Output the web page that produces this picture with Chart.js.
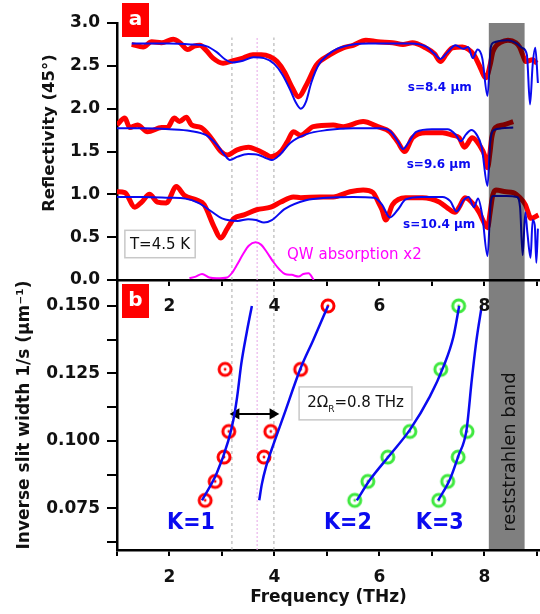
<!DOCTYPE html>
<html>
<head>
<meta charset="utf-8">
<script src="https://cdn.jsdelivr.net/npm/chart.js@4.4.0/dist/chart.umd.min.js"></script>
<style>
html, body { margin: 0; padding: 0; background: #fff; }
#wrap { position: relative; width: 540px; height: 614px; }
#wrap canvas { position: absolute; left: 0; top: 0; }
</style>
</head>
<body>
<div id="wrap">
  <canvas id="chartB" width="540" height="614"></canvas>
  <canvas id="chartA" width="540" height="614"></canvas>
</div>
<script>
// ---------- panel a : reflectivity at 45 deg (curves offset) ----------
// s = 8.4 um
const freq84Exp = [1.28,1.5,1.66,1.85,2.07,2.2,2.35,2.47,2.58,2.7,2.83,3.02,3.21,3.4,3.59,3.75,3.91,4.05,4.2,4.31,4.46,4.61,4.8,5.06,5.31,5.5,5.74,5.97,6.25,6.45,6.63,6.88,7.05,7.16,7.28,7.39,7.58,7.7,7.8,7.9,8.03,8.11,8.16,8.22,8.3,8.45,8.6,8.67,8.73,8.79,8.92,9.0];
const refl84Exp = [2.75,2.72,2.78,2.77,2.81,2.77,2.69,2.73,2.74,2.68,2.59,2.53,2.56,2.59,2.63,2.63,2.61,2.55,2.42,2.28,2.14,2.28,2.51,2.63,2.71,2.74,2.80,2.78,2.77,2.75,2.77,2.71,2.64,2.55,2.64,2.71,2.72,2.69,2.63,2.51,2.36,2.51,2.66,2.73,2.77,2.80,2.77,2.72,2.63,2.55,2.57,2.53];
const freq84Sim = [1.28,1.6,2.0,2.4,2.7,2.9,3.05,3.2,3.4,3.6,3.8,4.0,4.15,4.3,4.4,4.5,4.6,4.7,4.85,5.0,5.2,5.5,5.8,6.2,6.6,6.9,7.05,7.16,7.3,7.45,7.6,7.69,7.78,7.87,7.96,8.06,8.12,8.17,8.45,8.62,8.72,8.81,8.87,8.92,8.97,9.02];
const refl84Sim = [2.76,2.76,2.76,2.75,2.73,2.66,2.58,2.54,2.56,2.60,2.59,2.52,2.40,2.22,2.08,2.00,2.08,2.30,2.52,2.62,2.70,2.75,2.76,2.76,2.76,2.72,2.64,2.58,2.66,2.74,2.70,2.72,2.59,2.69,2.59,2.15,2.71,2.77,2.80,2.76,2.71,2.63,2.05,2.51,2.71,2.30];
// s = 9.6 um
const freq96Exp = [1.0,1.15,1.24,1.39,1.58,1.85,1.96,2.09,2.19,2.32,2.42,2.6,2.79,2.98,3.1,3.29,3.51,3.66,3.8,3.93,4.12,4.25,4.36,4.5,4.74,5.12,5.31,5.69,5.97,6.2,6.35,6.48,6.63,6.88,7.2,7.39,7.52,7.62,7.77,7.9,8.02,8.06,8.11,8.14,8.21,8.36,8.55];
const refl96Exp = [1.81,1.89,1.78,1.81,1.73,1.78,1.78,1.89,1.85,1.90,1.81,1.78,1.66,1.50,1.46,1.52,1.55,1.52,1.48,1.44,1.50,1.62,1.73,1.69,1.79,1.81,1.79,1.85,1.79,1.73,1.61,1.50,1.66,1.72,1.72,1.69,1.66,1.55,1.66,1.58,1.43,1.31,1.50,1.66,1.78,1.81,1.85];
const freq96Sim = [1.0,1.5,2.0,2.4,2.7,2.9,3.05,3.15,3.3,3.5,3.7,3.85,3.95,4.1,4.3,4.6,5.0,5.5,6.0,6.2,6.35,6.45,6.55,6.7,7.0,7.3,7.45,7.55,7.65,7.75,7.85,7.95,8.06,8.11,8.18,8.33,8.55];
const refl96Sim = [1.77,1.77,1.76,1.74,1.69,1.58,1.46,1.40,1.44,1.47,1.46,1.42,1.40,1.46,1.60,1.70,1.75,1.77,1.77,1.74,1.62,1.53,1.60,1.73,1.76,1.76,1.70,1.62,1.70,1.75,1.70,1.55,1.10,1.60,1.75,1.77,1.78];
// s = 10.4 um
const freq104Exp = [1.0,1.15,1.34,1.47,1.62,1.77,1.94,2.13,2.28,2.53,2.66,2.85,2.98,3.1,3.23,3.42,3.66,3.93,4.12,4.36,4.5,4.87,5.12,5.44,5.69,5.88,5.97,6.05,6.12,6.25,6.5,6.82,7.14,7.3,7.44,7.52,7.63,7.8,7.9,8.02,8.06,8.11,8.16,8.22,8.41,8.55,8.68,8.78,8.89,9.03];
const refl104Exp = [1.03,1.02,0.85,0.91,1.0,0.91,0.90,1.09,0.99,0.93,0.88,0.62,0.49,0.60,0.72,0.76,0.82,0.85,0.91,0.97,0.96,0.97,0.97,1.03,1.05,1.02,0.92,0.82,0.70,0.88,0.96,0.96,0.91,0.84,0.79,0.85,0.96,0.88,0.79,0.64,0.61,0.79,0.99,1.05,1.03,1.02,0.96,0.88,0.72,0.76];
const freq104Sim = [1.0,1.5,2.0,2.3,2.55,2.8,3.0,3.3,3.5,3.65,3.8,3.95,4.2,4.6,5.0,5.5,5.9,6.05,6.2,6.35,6.5,6.8,7.2,7.35,7.47,7.6,7.7,7.8,7.88,7.96,8.06,8.12,8.17,8.42,8.62,8.68,8.73,8.78,8.82,8.88,8.92,8.96,8.99,9.02];
const refl104Sim = [0.97,0.97,0.96,0.95,0.90,0.80,0.72,0.69,0.71,0.70,0.67,0.70,0.83,0.93,0.96,0.97,0.96,0.88,0.73,0.82,0.94,0.97,0.97,0.92,0.80,0.93,0.97,0.85,0.95,0.75,0.28,0.90,0.98,0.98,0.97,0.85,0.29,0.79,0.55,0.26,0.70,0.64,0.20,0.60];
// quantum well absorption (x2)
const freqQW = [2.38,2.5,2.62,2.76,2.9,3.1,3.2,3.29,3.4,3.51,3.64,3.75,3.85,3.98,4.1,4.2,4.33,4.46,4.55,4.65,4.75];
const absQW = [0.02,0.04,0.07,0.03,0.02,0.03,0.09,0.18,0.30,0.40,0.44,0.41,0.33,0.21,0.12,0.07,0.06,0.04,0.07,0.08,0.0];

// ---------- panel b : mode frequency vs inverse slit width ----------
const invSlit = [0.078, 0.085, 0.094, 0.1035, 0.1265, 0.150];
const freqK1Low = [2.68, 2.87, 3.04, 3.13, 3.06];   // invSlit[0..4]
const freqK1High = [3.80, 3.93, 4.50, 5.02];        // invSlit[2..5]
const freqK2 = [5.53, 5.78, 6.16, 6.58, 7.17, 7.51]; // invSlit[0..5]
const freqK3 = [7.13, 7.30, 7.50, 7.67];             // invSlit[0..3]
// model curves
const fitK1LowF = [2.62, 2.90, 3.12, 3.22, 3.29, 3.37, 3.47, 3.57];
const fitK1LowS = [0.078, 0.088, 0.100, 0.108, 0.1164, 0.1288, 0.140, 0.150];
const fitK1HighF = [3.71, 3.76, 3.84, 3.95, 4.17, 4.50, 4.74, 5.02];
const fitK1HighS = [0.078, 0.084, 0.0905, 0.097, 0.109, 0.127, 0.1374, 0.150];
const fitK2F = [5.57, 5.82, 6.20, 6.58, 6.96, 7.22, 7.41, 7.52];
const fitK2S = [0.078, 0.0856, 0.0948, 0.1041, 0.1164, 0.1275, 0.1386, 0.150];
const fitK3F = [7.12, 7.34, 7.50, 7.66, 7.76, 7.85, 7.95];
const fitK3S = [0.078, 0.0856, 0.0942, 0.1041, 0.1226, 0.1374, 0.150];

// shared markers
const reststrahlen = [8.08, 8.77];
const greyLines = [3.19, 3.99];
const pinkLine = 3.67;
const rabiArrowF = [3.27, 3.97];
const rabiArrowS = 0.110;

// ticks
const freqTicks = [1, 2, 3, 4, 5, 6, 7, 8, 9];
const reflTicks = [0, 0.25, 0.5, 0.75, 1, 1.25, 1.5, 1.75, 2, 2.25, 2.5, 2.75, 3];
const slitTicks = [0.0625, 0.075, 0.0875, 0.1, 0.1125, 0.125, 0.1375, 0.15];

const RED = '#ff0000';
const BLUE = '#0a0af0';
const GREEN = '#3ee83e';
const FONT = '"DejaVu Sans", Verdana, sans-serif';

function zip(xs, ys) {
    return xs.map((v, i) => ({x: v, y: ys[i]}));
}

// ring marker with a small dot in the middle
function ringMarker(color) {
    let c = document.createElement('canvas');
    c.width = 18; c.height = 18;
    let g = c.getContext('2d');
    g.strokeStyle = color;
    g.lineWidth = 3;
    g.beginPath(); g.arc(9, 9, 6, 0, Math.PI * 2); g.stroke();
    g.fillStyle = color;
    g.beginPath(); g.arc(9, 9, 1.4, 0, Math.PI * 2); g.fill();
    return c;
}

function tickSetter(list) {
    return function(scale) { scale.ticks = list.map(v => ({value: v})); };
}

function lineSet(data, color, width, order) {
    return {
        data: data, borderColor: color, borderWidth: width, pointRadius: 0,
        cubicInterpolationMode: 'monotone', fill: false, order: order
    };
}

function dashSet(data, color, dash, order) {
    return {data: data, borderColor: color, borderWidth: 1, borderDash: dash, pointRadius: 0, fill: false, order: order};
}

const axisFont = {family: FONT, size: 17, weight: 'bold'};

// ---------- panel a plugin: labels & boxes ----------
const panelANotes = {
    id: 'panelANotes',
    afterDatasetsDraw(chart) {
        const {ctx, scales: {x, y}} = chart;
        ctx.save();
        ctx.textBaseline = 'middle';

        // sample labels
        ctx.fillStyle = BLUE;
        ctx.font = 'bold 12px ' + FONT;
        ctx.textAlign = 'left';
        ctx.fillText('s=8.4 µm', x.getPixelForValue(6.54), y.getPixelForValue(2.24));
        ctx.fillText('s=9.6 µm', x.getPixelForValue(6.52), y.getPixelForValue(1.34));
        ctx.fillText('s=10.4 µm', x.getPixelForValue(6.45), y.getPixelForValue(0.64));

        // QW label
        ctx.fillStyle = '#ff00ff';
        ctx.font = '15px ' + FONT;
        ctx.fillText('QW absorption x2', x.getPixelForValue(4.24), y.getPixelForValue(0.29));

        // temperature box
        let bx0 = x.getPixelForValue(1.15), bx1 = x.getPixelForValue(2.49);
        let by0 = y.getPixelForValue(0.58), by1 = y.getPixelForValue(0.26);
        ctx.fillStyle = '#fff';
        ctx.fillRect(bx0, by0, bx1 - bx0, by1 - by0);
        ctx.strokeStyle = '#c8c8c8';
        ctx.lineWidth = 1.5;
        ctx.strokeRect(bx0, by0, bx1 - bx0, by1 - by0);
        ctx.fillStyle = '#111';
        ctx.textAlign = 'center';
        ctx.fillText('T=4.5 K', (bx0 + bx1) / 2, (by0 + by1) / 2 + 1);

        // panel letter
        ctx.fillStyle = RED;
        ctx.fillRect(122, 3, 27, 34);
        ctx.fillStyle = '#fff';
        ctx.font = 'bold 20px ' + FONT;
        ctx.fillText('a', 135.5, 20);

        // y title
        ctx.translate(50, 133);
        ctx.rotate(-Math.PI / 2);
        ctx.fillStyle = '#111';
        ctx.font = 'bold 16.5px ' + FONT;
        ctx.fillText('Reflectivity (45°)', 0, 0);
        ctx.restore();
    }
};

// ---------- panel b plugin ----------
const panelBNotes = {
    id: 'panelBNotes',
    afterDatasetsDraw(chart) {
        const {ctx, scales: {x, y}} = chart;
        ctx.save();
        ctx.textBaseline = 'middle';
        ctx.textAlign = 'center';

        // mode labels
        ctx.fillStyle = BLUE;
        ctx.font = 'bold 23px "DejaVu Sans Condensed", ' + FONT;
        ctx.fillText('K=1', x.getPixelForValue(2.41), y.getPixelForValue(0.0696));
        ctx.fillText('K=2', x.getPixelForValue(5.40), y.getPixelForValue(0.0696));
        ctx.fillText('K=3', x.getPixelForValue(7.15), y.getPixelForValue(0.0696));

        // Rabi splitting box
        let bx0 = x.getPixelForValue(4.47), bx1 = x.getPixelForValue(6.62);
        let by0 = y.getPixelForValue(0.1200), by1 = y.getPixelForValue(0.1078);
        ctx.fillStyle = '#fff';
        ctx.fillRect(bx0, by0, bx1 - bx0, by1 - by0);
        ctx.strokeStyle = '#c8c8c8';
        ctx.lineWidth = 1.5;
        ctx.strokeRect(bx0, by0, bx1 - bx0, by1 - by0);
        let cy = (by0 + by1) / 2;
        ctx.font = '15px ' + FONT;
        let w1 = ctx.measureText('2Ω').width;
        let w3 = ctx.measureText('=0.8 THz').width;
        ctx.font = '9px ' + FONT;
        let w2 = ctx.measureText('R').width;
        let sx = (bx0 + bx1) / 2 - (w1 + w2 + w3) / 2;
        ctx.textAlign = 'left';
        ctx.fillStyle = '#111';
        ctx.font = '15px ' + FONT;
        ctx.fillText('2Ω', sx, cy);
        ctx.font = '9px ' + FONT;
        ctx.fillText('R', sx + w1, cy + 6);
        ctx.font = '15px ' + FONT;
        ctx.fillText('=0.8 THz', sx + w1 + w2, cy);

        // band label
        ctx.save();
        ctx.translate(x.getPixelForValue(8.50), y.getPixelForValue(0.0959));
        ctx.rotate(-Math.PI / 2);
        ctx.textAlign = 'center';
        ctx.fillStyle = '#111';
        ctx.font = '18px ' + FONT;
        ctx.fillText('reststrahlen band', 0, 0);
        ctx.restore();

        // panel letter
        ctx.fillStyle = RED;
        ctx.fillRect(122, 284, 27, 34);
        ctx.fillStyle = '#fff';
        ctx.textAlign = 'center';
        ctx.font = 'bold 20px ' + FONT;
        ctx.fillText('b', 135.5, 301);
        ctx.restore();
    }
};

// ---------- chart a ----------
const chartA = new Chart(document.getElementById('chartA'), {
    type: 'line',
    data: {
        datasets: [
            Object.assign(lineSet(zip(reststrahlen, [3, 3]), 'rgba(0,0,0,0)', 0, 0),
                {fill: 'start', backgroundColor: 'rgba(0,0,0,0.5)', cubicInterpolationMode: 'default'}),
            lineSet(zip(freq84Sim, refl84Sim), BLUE, 2, 1),
            lineSet(zip(freq96Sim, refl96Sim), BLUE, 2, 1),
            lineSet(zip(freq104Sim, refl104Sim), BLUE, 2, 1),
            lineSet(zip(freq84Exp, refl84Exp), RED, 5, 2),
            lineSet(zip(freq96Exp, refl96Exp), RED, 5, 2),
            lineSet(zip(freq104Exp, refl104Exp), RED, 5, 2),
            lineSet(zip(freqQW, absQW), '#ff00ff', 2, 3),
            dashSet(zip([greyLines[0], greyLines[0]], [0, 2.83]), '#aaaaaa', [3, 3], 5),
            dashSet(zip([greyLines[1], greyLines[1]], [0, 2.83]), '#aaaaaa', [3, 3], 5),
            dashSet(zip([pinkLine, pinkLine], [0, 2.83]), '#e6a6e6', [2, 2], 5)
        ]
    },
    options: {
        responsive: false,
        animation: false,
        layout: {autoPadding: false, padding: {top: 23, left: 0, right: 0, bottom: 0}},
        plugins: {legend: {display: false}, tooltip: {enabled: false}},
        scales: {
            x: {
                type: 'linear', min: 1, max: 9.06,
                afterBuildTicks: tickSetter(freqTicks),
                afterFit: s => { s.height = 334; s.paddingLeft = 0; s.paddingRight = 0; },
                border: {display: true, color: '#000', width: 2.5},
                grid: {drawOnChartArea: false, tickLength: 6, lineWidth: 2, tickColor: '#000'},
                ticks: {autoSkip: false, maxRotation: 0, padding: 10, color: '#111', font: axisFont,
                    callback: v => (v % 2 === 0 ? String(v) : '')}
            },
            y: {
                min: 0, max: 3,
                afterBuildTicks: tickSetter(reflTicks),
                afterFit: s => { s.width = 117; },
                border: {display: true, color: '#000', width: 2.5},
                grid: {drawOnChartArea: false, tickLength: 10, lineWidth: 2, tickColor: '#000'},
                ticks: {padding: 7, color: '#111', font: axisFont,
                    callback: v => (Math.abs(v * 2 - Math.round(v * 2)) < 1e-6 ? v.toFixed(1) : '')}
            }
        }
    },
    plugins: [panelANotes]
});

// ---------- chart b ----------
const chartB = new Chart(document.getElementById('chartB'), {
    type: 'line',
    data: {
        datasets: [
            Object.assign(lineSet(zip(reststrahlen, [0.1596, 0.1596]), 'rgba(0,0,0,0)', 0, 0),
                {fill: 'start', backgroundColor: 'rgba(0,0,0,0.5)', cubicInterpolationMode: 'default'}),
            lineSet(zip(fitK1LowF, fitK1LowS), BLUE, 2.5, 1),
            lineSet(zip(fitK1HighF, fitK1HighS), BLUE, 2.5, 1),
            lineSet(zip(fitK2F, fitK2S), BLUE, 2.5, 1),
            lineSet(zip(fitK3F, fitK3S), BLUE, 2.5, 1),
            {data: zip(freqK1Low, invSlit.slice(0, 5)), showLine: false, pointStyle: ringMarker(RED), pointRadius: 7, order: 2},
            {data: zip(freqK1High, invSlit.slice(2)), showLine: false, pointStyle: ringMarker(RED), pointRadius: 7, order: 2},
            {data: zip(freqK2, invSlit), showLine: false, pointStyle: ringMarker(GREEN), pointRadius: 7, order: 2},
            {data: zip(freqK3, invSlit.slice(0, 4)), showLine: false, pointStyle: ringMarker(GREEN), pointRadius: 7, order: 2},
            {data: zip(rabiArrowF, [rabiArrowS, rabiArrowS]), borderColor: '#000', borderWidth: 2,
                pointStyle: 'triangle', pointRadius: 4.5, pointRotation: [-90, 90],
                pointBackgroundColor: '#000', pointBorderColor: '#000', order: 1},
            dashSet(zip([greyLines[0], greyLines[0]], [0.0596, 0.1596]), '#aaaaaa', [3, 3], 5),
            dashSet(zip([greyLines[1], greyLines[1]], [0.0596, 0.1596]), '#aaaaaa', [3, 3], 5),
            dashSet(zip([pinkLine, pinkLine], [0.0596, 0.1596]), '#e6a6e6', [2, 2], 5)
        ]
    },
    options: {
        responsive: false,
        animation: false,
        layout: {autoPadding: false, padding: {top: 280, left: 0, right: 0, bottom: 0}},
        plugins: {legend: {display: false}, tooltip: {enabled: false}},
        scales: {
            x: {
                type: 'linear', min: 1, max: 9.06,
                afterBuildTicks: tickSetter(freqTicks),
                afterFit: s => { s.height = 64; s.paddingLeft = 0; s.paddingRight = 0; },
                border: {display: true, color: '#000', width: 2.5},
                grid: {drawOnChartArea: false, tickLength: 6, lineWidth: 2, tickColor: '#000'},
                ticks: {autoSkip: false, maxRotation: 0, padding: 11, color: '#111', font: axisFont,
                    callback: v => (v % 2 === 0 ? String(v) : '')},
                title: {display: true, text: 'Frequency (THz)', color: '#111', font: axisFont,
                    padding: {top: 0, bottom: 6}}
            },
            y: {
                min: 0.0596, max: 0.1596,
                afterBuildTicks: tickSetter(slitTicks),
                afterFit: s => { s.width = 117; },
                border: {display: true, color: '#000', width: 2.5},
                grid: {drawOnChartArea: false, tickLength: 10, lineWidth: 2, tickColor: '#000'},
                ticks: {padding: 7, color: '#111', font: axisFont,
                    callback: v => (Math.abs(v * 40 - Math.round(v * 40)) < 1e-6 ? v.toFixed(3) : '')},
                title: {display: true, text: 'Inverse slit width 1/s (µm⁻¹)', color: '#111', font: axisFont,
                    padding: {top: 14, bottom: 0}}
            }
        }
    },
    plugins: [panelBNotes]
});
</script>
</body>
</html>
